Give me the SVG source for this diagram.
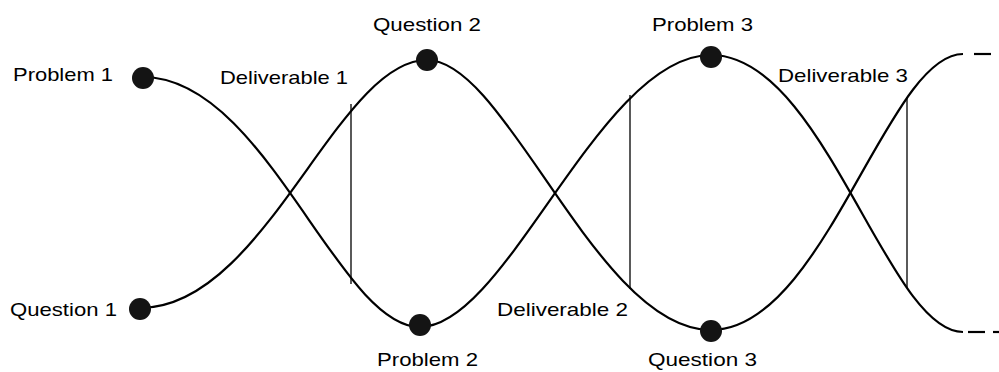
<svg xmlns="http://www.w3.org/2000/svg" width="999" height="372" viewBox="0 0 999 372">
<style>
.c{fill:none;stroke:#000;stroke-width:2.2}
.v{stroke:#000;stroke-width:1.3}
.d{fill:#141414}
text{font-family:"Liberation Sans",Arial,Helvetica,sans-serif;font-size:19px;fill:#000}
</style>
<rect width="999" height="372" fill="#fff"/>
<g id="connectors">
<path class="c" d="M143,77 C265,77 338,327 420,327 C507,327 600,55 711,55 C824,55 887,332 963,332"/>
<path class="c" d="M140,308 C265,308 337,60 427,60 C507,60 597,330 711,330 C824,330 887,54 963,54"/>
<line class="c" x1="974" y1="54" x2="991" y2="54"/>
<line class="c" x1="968" y1="332" x2="985" y2="332"/>
<line class="c" x1="993" y1="332" x2="999" y2="332"/>
<line class="v" x1="351" y1="104" x2="351" y2="284"/>
<line class="v" x1="630" y1="95" x2="630" y2="289"/>
<line class="v" x1="907" y1="97" x2="907" y2="288"/>
</g>
<g id="problem1"><circle class="d" cx="143" cy="78" r="11"/><text x="13" y="81" textLength="100" lengthAdjust="spacingAndGlyphs">Problem 1</text></g>
<g id="question1"><circle class="d" cx="140" cy="309" r="11"/><text x="10" y="316" textLength="107" lengthAdjust="spacingAndGlyphs">Question 1</text></g>
<g id="deliverable1"><text x="220" y="84" textLength="128" lengthAdjust="spacingAndGlyphs">Deliverable 1</text></g>
<g id="question2"><circle class="d" cx="427" cy="60" r="11"/><text x="373" y="31" textLength="108" lengthAdjust="spacingAndGlyphs">Question 2</text></g>
<g id="problem2"><circle class="d" cx="420" cy="325" r="11"/><text x="377" y="366" textLength="101" lengthAdjust="spacingAndGlyphs">Problem 2</text></g>
<g id="deliverable2"><text x="497" y="316" textLength="131" lengthAdjust="spacingAndGlyphs">Deliverable 2</text></g>
<g id="problem3"><circle class="d" cx="711" cy="57" r="11"/><text x="652" y="31" textLength="101" lengthAdjust="spacingAndGlyphs">Problem 3</text></g>
<g id="question3"><circle class="d" cx="711" cy="331" r="11"/><text x="648" y="366" textLength="109" lengthAdjust="spacingAndGlyphs">Question 3</text></g>
<g id="deliverable3"><text x="778" y="82" textLength="130" lengthAdjust="spacingAndGlyphs">Deliverable 3</text></g>
</svg>
